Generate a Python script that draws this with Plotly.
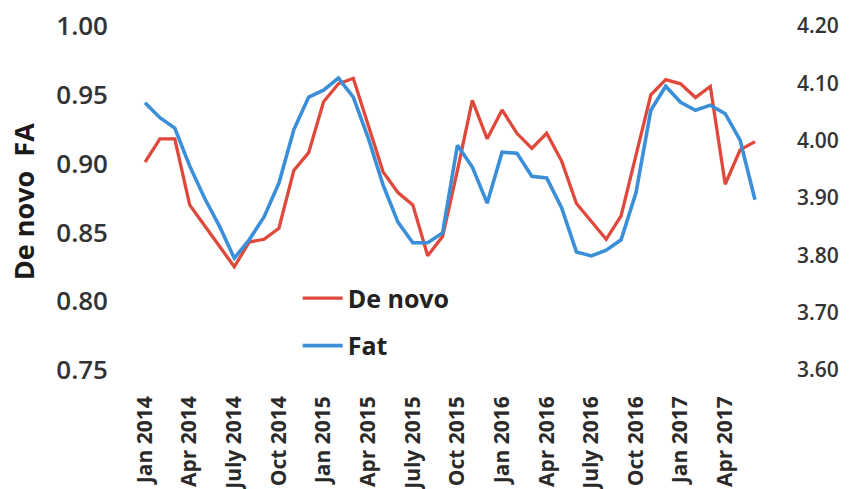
import plotly.graph_objects as go

months = ["Jan 2014","Feb 2014","Mar 2014","Apr 2014","May 2014","Jun 2014","July 2014","Aug 2014","Sep 2014",
          "Oct 2014","Nov 2014","Dec 2014","Jan 2015","Feb 2015","Mar 2015","Apr 2015","May 2015","Jun 2015",
          "July 2015","Aug 2015","Sep 2015","Oct 2015","Nov 2015","Dec 2015","Jan 2016","Feb 2016","Mar 2016",
          "Apr 2016","May 2016","Jun 2016","July 2016","Aug 2016","Sep 2016","Oct 2016","Nov 2016","Dec 2016",
          "Jan 2017","Feb 2017","Mar 2017","Apr 2017","May 2017","Jun 2017"]

de_novo = [0.901, 0.918, 0.918, 0.870, 0.855, 0.840, 0.825, 0.843, 0.845, 0.853, 0.895, 0.908,
           0.945, 0.958, 0.962, 0.928, 0.894, 0.879, 0.870, 0.833, 0.847, 0.895, 0.946, 0.918,
           0.939, 0.922, 0.911, 0.922, 0.902, 0.871, 0.858, 0.845, 0.862, 0.907, 0.950, 0.961,
           0.958, 0.948, 0.956, 0.885, 0.910, 0.916]

fat = [4.066, 4.040, 4.022, 3.956, 3.900, 3.851, 3.795, 3.827, 3.867, 3.926, 4.019, 4.076,
       4.088, 4.109, 4.076, 4.005, 3.923, 3.858, 3.822, 3.822, 3.839, 3.992, 3.954, 3.891,
       3.980, 3.978, 3.938, 3.935, 3.883, 3.806, 3.799, 3.809, 3.827, 3.909, 4.053, 4.095,
       4.067, 4.053, 4.062, 4.047, 4.001, 3.897]

tick_labels = ["Jan 2014","Apr 2014","July 2014","Oct 2014","Jan 2015","Apr 2015","July 2015",
               "Oct 2015","Jan 2016","Apr 2016","July 2016","Oct 2016","Jan 2017","Apr 2017"]
left_ticks = [0.75, 0.80, 0.85, 0.90, 0.95, 1.00]
right_ticks = [3.60, 3.70, 3.80, 3.90, 4.00, 4.10, 4.20]

x = list(range(len(months)))
tickvals = [months.index(t) for t in tick_labels]

FONT = "Open Sans"

fig = go.Figure()
fig.add_trace(go.Scatter(x=x, y=de_novo, name="De novo", mode="lines",
                         line=dict(color="#e0483c", width=3.3), legendgroup="a"))
fig.add_trace(go.Scatter(x=x, y=fat, name="Fat", mode="lines", yaxis="y2",
                         line=dict(color="#3b8fd8", width=3.6), legendgroup="b"))

fig.update_layout(
    width=852, height=489,
    margin=dict(l=130, r=82, t=26, b=119, autoexpand=False),
    paper_bgcolor="white", plot_bgcolor="white",
    font=dict(family=FONT, color="#2a2a2a"),
    xaxis=dict(range=[-1.01, 42.01], tickvals=tickvals, ticktext=tick_labels, tickangle=-90,
               showgrid=False, zeroline=False, showline=False, ticks="", automargin=False,
               tickfont=dict(size=21, family=FONT, weight="bold", color="#2a2a2a"),
               ticklabelstandoff=21),
    yaxis=dict(range=[0.75, 1.00], tickvals=left_ticks, tickformat=".2f", automargin=False,
               showgrid=False, zeroline=False, showline=False, ticks="",
               tickfont=dict(size=26, family=FONT, weight=600, color="#333333"),
               ticklabelstandoff=21),
    yaxis2=dict(range=[3.60, 4.20], tickvals=right_ticks, tickformat=".2f", overlaying="y", side="right",
                showgrid=False, zeroline=False, showline=False, ticks="", automargin=False,
                tickfont=dict(size=21, family=FONT, weight=600, color="#333333"),
                ticklabelstandoff=26),
    showlegend=True,
    legend=dict(x=0.262, y=0.275, xanchor="left", yanchor="top", bgcolor="rgba(0,0,0,0)",
                font=dict(size=25, family=FONT, weight="bold", color="#222222"),
                tracegroupgap=12, itemwidth=40),
    annotations=[dict(text="De novo\u00a0 FA", textangle=-90, xref="paper", yref="paper",
                      x=-0.166, y=0.49, xanchor="center", yanchor="middle", showarrow=False,
                      font=dict(size=27, family=FONT, weight="bold", color="#1a1a1a"))],
)

fig.write_html("out.html", config={"displayModeBar": False},
               post_script="document.body.style.margin='0';document.body.style.overflow='hidden';")
